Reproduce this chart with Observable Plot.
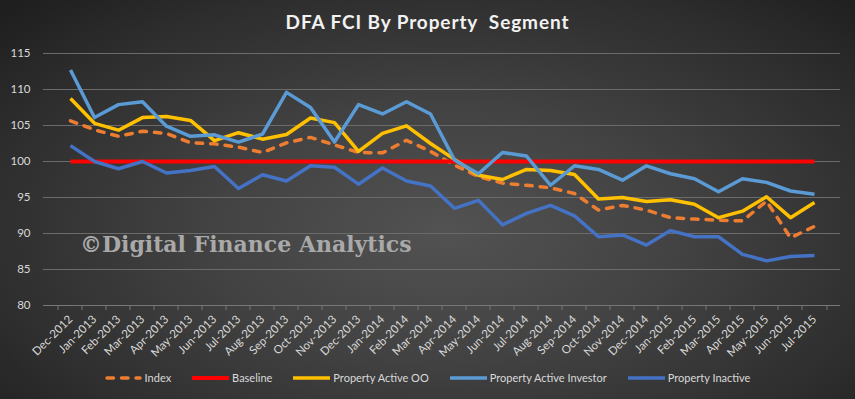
<!DOCTYPE html>
<html>
<head>
<meta charset="utf-8">
<script src="https://cdn.jsdelivr.net/npm/d3@7"></script>
<script src="https://cdn.jsdelivr.net/npm/@observablehq/plot@0.6"></script>
<style>
  html, body { margin: 0; padding: 0; }
  #wrap {
    position: relative; width: 855px; height: 399px; overflow: hidden;
    background: radial-gradient(ellipse 70% 80% at 52% 58%, #525252 0%, #424242 40%, #2c2c2c 80%, #1f1f1f 100%);
    font-family: Lato, "Open Sans", sans-serif;
  }
  #title {
    position: absolute; top: 10px; left: 0; width: 855px; text-align: center; white-space: pre;
    color: #f2f2f2; font: bold 19px Lato, "Open Sans", sans-serif; letter-spacing: 0.9px;
  }
  #chart { position: absolute; left: 0; top: 0; }
  #watermark {
    position: absolute; left: 80px; top: 231px; color: #a9a9a9;
    font: bold 22px "DejaVu Serif", serif; letter-spacing: 0px; white-space: nowrap;
  }
  #legend {
    position: absolute; top: 371px; left: 0; width: 855px;
    display: flex; justify-content: center; align-items: center; gap: 21px;
    color: #d9d9d9; font: 11px Lato, "Open Sans", sans-serif;
  }
  .item { display: flex; align-items: center; gap: 3px; }
  .item svg { display: block; }
</style>
</head>
<body>
<div id="wrap">
  <div id="chart"></div>
  <div id="title">DFA FCI By Property  Segment</div>
  <div id="watermark">©Digital Finance Analytics</div>
  <div id="legend"></div>
</div>
<script>
const months = ["Dec-2012","Jan-2013","Feb-2013","Mar-2013","Apr-2013","May-2013","Jun-2013","Jul-2013","Aug-2013","Sep-2013","Oct-2013","Nov-2013","Dec-2013","Jan-2014","Feb-2014","Mar-2014","Apr-2014","May-2014","Jun-2014","Jul-2014","Aug-2014","Sep-2014","Oct-2014","Nov-2014","Dec-2014","Jan-2015","Feb-2015","Mar-2015","Apr-2015","May-2015","Jun-2015","Jul-2015"];
const indexVals = [105.65,104.4,103.5,104.2,103.9,102.6,102.45,102.0,101.25,102.6,103.35,102.3,101.25,101.2,102.95,101.4,99.5,97.9,97.0,96.7,96.35,95.55,93.25,93.9,93.25,92.2,92.0,91.85,91.75,94.5,89.4,91.0];
const baseline = [100,100,100,100,100,100,100,100,100,100,100,100,100,100,100,100,100,100,100,100,100,100,100,100,100,100,100,100,100,100,100,100];
const activeOO = [108.75,105.3,104.35,106.1,106.25,105.7,102.9,104.0,103.1,103.75,106.05,105.4,101.4,103.9,104.95,102.5,100.3,98.1,97.5,98.9,98.75,98.2,94.8,95.0,94.45,94.7,94.05,92.2,93.1,95.1,92.2,94.3];
const activeInvestor = [112.7,106.1,107.9,108.3,104.9,103.5,103.7,102.7,103.8,109.6,107.5,102.7,107.9,106.6,108.3,106.6,100.2,98.3,101.25,100.75,96.7,99.4,98.9,97.4,99.4,98.3,97.6,95.8,97.6,97.1,95.9,95.45];
const inactive = [102.2,100.0,99.0,100.0,98.4,98.75,99.3,96.25,98.15,97.3,99.4,99.2,96.85,99.1,97.3,96.6,93.5,94.6,91.2,92.8,93.9,92.45,89.55,89.8,88.4,90.4,89.55,89.55,87.1,86.2,86.8,86.95];
const yTicks = [80,85,90,95,100,105,110,115];

const seriesNames = ["Index","Baseline","Property Active OO","Property Active Investor","Property Inactive"];
const seriesColors = ["#ED7D31","#FF0000","#FFC000","#5B9BD5","#4472C4"];
const seriesValues = [indexVals, baseline, activeOO, activeInvestor, inactive];

const W = 855, H = 399, ML = 43, MR = 15, MT = 53, MB = 94;
const halfStep = (W - ML - MR) / months.length / 2;

const rows = seriesNames.map((name, s) => months.map((m, i) => ({series: name, month: m, value: seriesValues[s][i]})));

const lineMarks = rows.map((data, s) => Plot.line(data, {
  x: "month", y: "value",
  stroke: seriesColors[s],
  strokeWidth: s === 1 ? 4 : 3.5,
  strokeLinejoin: "round",
  strokeLinecap: s === 0 ? "round" : "butt",
  strokeDasharray: s === 0 ? "6.5,8" : null,
  style: "filter: drop-shadow(1.5px 2px 1.5px rgba(0,0,0,0.45))"
}));

const chart = Plot.plot({
  width: W, height: H,
  marginLeft: ML, marginRight: MR, marginTop: MT, marginBottom: MB,
  style: {background: "transparent", color: "#d9d9d9", fontFamily: "Lato, 'Open Sans', sans-serif", overflow: "visible"},
  x: {type: "point", domain: months, padding: 0.5},
  y: {domain: [80, 115]},
  marks: [
    Plot.gridY(yTicks.filter(d => d > 80), {stroke: "#6b6b6b", strokeOpacity: 1, strokeWidth: 1}),
    Plot.ruleY([80], {stroke: "#777", strokeWidth: 1}),
    Plot.ruleX(months, {x: d => d, y1: 80, y2: 79.3, dx: -halfStep, stroke: "#777"}),
    Plot.ruleX([months[months.length - 1]], {x: d => d, y1: 80, y2: 79.3, dx: halfStep, stroke: "#777"}),
    Plot.axisY(yTicks, {tickSize: 0, tickPadding: 13, fontSize: 11.5, fill: "#d9d9d9", label: null}),
    Plot.axisX({tickSize: 0, tickRotate: -45, tickPadding: 12, fontSize: 11.5, fill: "#d9d9d9", label: null}),
    ...lineMarks
  ]
});
document.getElementById("chart").appendChild(chart);

const legend = document.getElementById("legend");
seriesNames.forEach((name, s) => {
  const item = document.createElement("div");
  item.className = "item";
  const dash = s === 0 ? 'stroke-dasharray="6.5,8" stroke-linecap="round"' : '';
  item.innerHTML = `<svg width="37" height="8"><line x1="${s===0?2:0}" x2="${s===0?35:37}" y1="4" y2="4" stroke="${seriesColors[s]}" stroke-width="${s===1?4:3.5}" ${dash}/></svg><span>${name}</span>`;
  legend.appendChild(item);
});
</script>
</body>
</html>
